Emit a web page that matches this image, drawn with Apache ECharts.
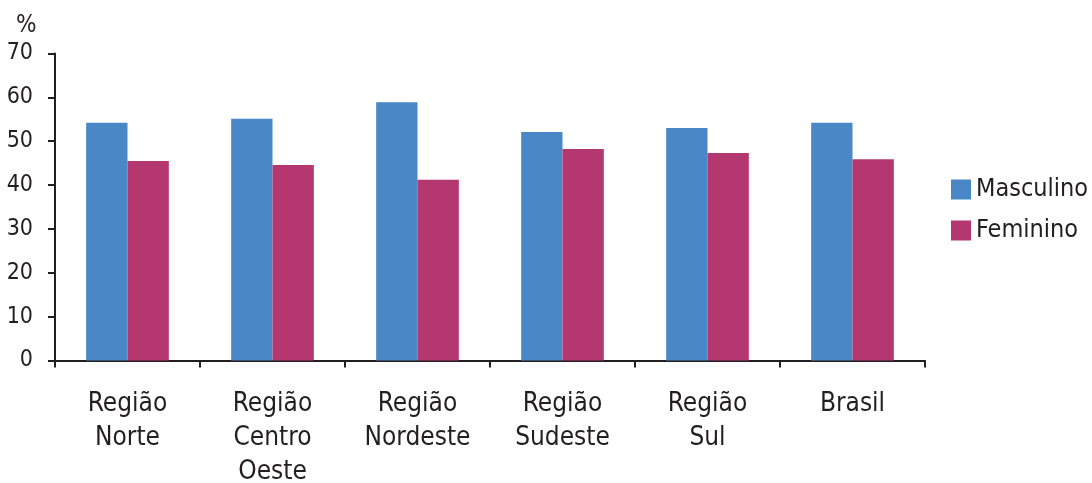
<!DOCTYPE html>
<html>
<head>
<meta charset="utf-8">
<script src="https://cdn.jsdelivr.net/npm/echarts@6/dist/echarts.min.js"></script>
<style>
  html, body { margin: 0; padding: 0; background: #fff; }
  #chart { width: 1092px; height: 483px; }
</style>
</head>
<body>
<div id="chart"></div>
<script>
// Regional share (%) by sex
const categories = ['Região\nNorte', 'Região\nCentro\nOeste', 'Região\nNordeste', 'Região\nSudeste', 'Região\nSul', 'Brasil'];
const masculino = [54.2, 55.1, 58.9, 52.1, 53.0, 54.2];
const feminino = [45.5, 44.6, 41.2, 48.2, 47.3, 45.9];
const yTicks = { min: 0, max: 70, interval: 10 };

const FONT = '"Liberation Sans Narrow", "DejaVu Sans Condensed", "Liberation Sans", sans-serif';
const INK = '#231f20';

const chart = echarts.init(document.getElementById('chart'), null, { renderer: 'canvas' });
chart.setOption({
  animation: false,
  backgroundColor: '#ffffff',
  textStyle: { fontFamily: FONT, color: INK },
  title: {
    text: '%',
    left: 11,
    top: 9,
    textStyle: { fontFamily: FONT, fontSize: 24, fontWeight: 'normal', color: INK }
  },
  legend: {
    orient: 'vertical',
    left: 946,
    top: 172,
    itemWidth: 20,
    itemHeight: 20,
    itemGap: 16,
    icon: 'rect',
    textStyle: { fontFamily: FONT, fontSize: 25, color: INK },
    data: ['Masculino', 'Feminino']
  },
  grid: { left: 55, right: 167, top: 53.5, bottom: 122.5, containLabel: false, outerBoundsMode: 'none' },
  xAxis: {
    type: 'category',
    data: categories,
    axisLine: { lineStyle: { color: INK, width: 2 } },
    axisTick: { show: true, length: 7, lineStyle: { color: INK, width: 2 } },
    axisLabel: { fontFamily: FONT, fontSize: 26, color: INK, lineHeight: 34, margin: 27, interval: 0 }
  },
  yAxis: {
    type: 'value',
    min: yTicks.min,
    max: yTicks.max,
    interval: yTicks.interval,
    splitLine: { show: false },
    axisLine: { show: true, lineStyle: { color: INK, width: 2 } },
    axisTick: { show: true, length: 7, lineStyle: { color: INK, width: 2 } },
    axisLabel: { fontFamily: FONT, fontSize: 23, color: INK, margin: 22, padding: [8, 0, 0, 0] }
  },
  series: [
    {
      name: 'Masculino',
      type: 'bar',
      data: masculino,
      barGap: '0%',
      barCategoryGap: '43%',
      itemStyle: { color: '#4a87c6' }
    },
    {
      name: 'Feminino',
      type: 'bar',
      data: feminino,
      barGap: '0%',
      barCategoryGap: '43%',
      itemStyle: { color: '#b53770' }
    }
  ]
});
</script>
</body>
</html>
